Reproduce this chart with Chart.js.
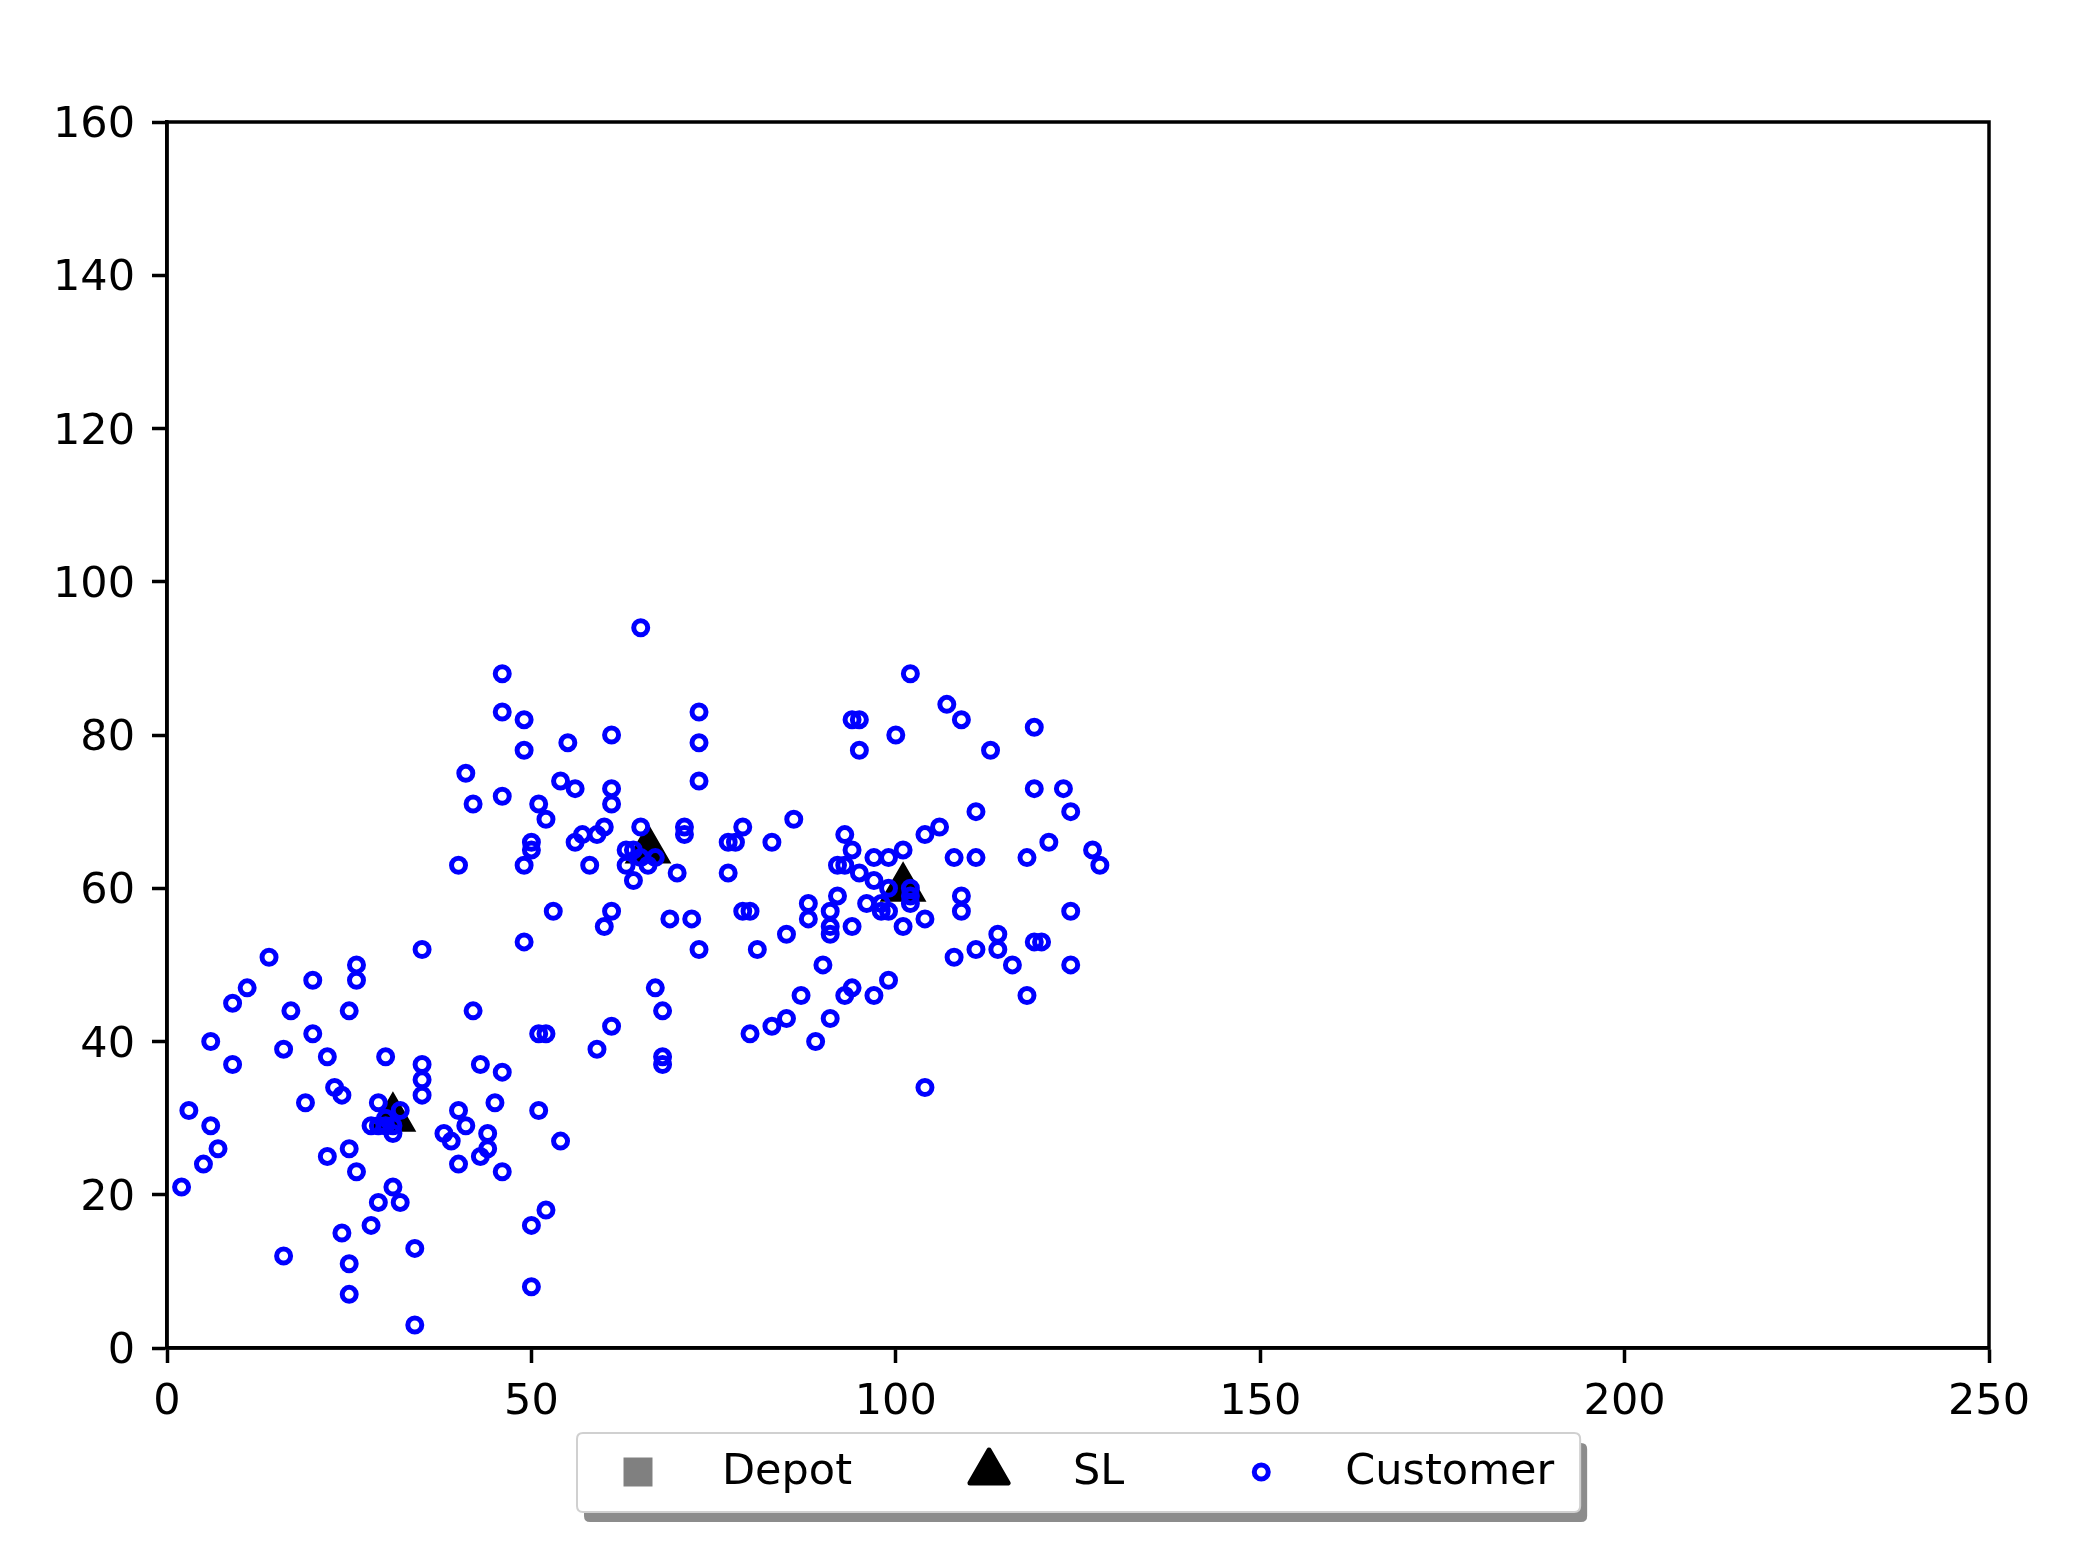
<!DOCTYPE html>
<html>
<head>
<meta charset="utf-8">
<script src="https://cdn.jsdelivr.net/npm/chart.js@4.4.1/dist/chart.umd.min.js"></script>
<style>
  html, body { margin: 0; padding: 0; background: #fff; }
</style>
</head>
<body>
<canvas id="myChart" width="2079" height="1561"></canvas>
<script>
// 데이터 (그림에서 읽은 좌표)
const depotX = [];
const depotY = [];

const slX = [31, 66, 101];
const slY = [30, 65, 60];

const customerX = [
  65, 46, 102, 46, 73, 49, 94, 95, 109, 107, 119, 61, 100, 55, 73, 49, 95, 113, 41, 73,
  54, 56, 61, 119, 123, 46, 42, 51, 61, 111, 124, 52, 86, 106, 71, 71, 65, 60, 59, 57,
  56, 50, 50, 49, 58, 40, 70, 77, 77, 78, 79, 83, 64, 63, 63, 64, 65, 66, 67, 53,
  61, 60, 49, 69, 72, 73, 79, 80, 81, 85, 88, 88, 90, 104, 121, 127, 128, 118, 108, 111,
  93, 94, 97, 99, 101, 92, 93, 95, 97, 99, 92, 96, 98, 99, 98, 101, 104, 102, 102, 102,
  109, 109, 124, 91, 91, 91, 94, 114, 114, 119, 120, 111, 108, 116, 124, 99, 94, 93, 97, 91,
  89, 118, 104, 87, 85, 83, 80, 67, 68, 68, 68, 51, 52, 61, 59, 46, 43, 45, 51, 54,
  44, 44, 43, 46, 52, 50, 50, 42, 14, 35, 26, 26, 20, 11, 9, 17, 25, 6, 20, 16,
  22, 30, 9, 35, 35, 35, 23, 24, 19, 29, 32, 3, 40, 6, 41, 38, 39, 7, 5, 25,
  22, 26, 40, 2, 31, 29, 32, 28, 24, 34, 16, 25, 25, 34, 28, 29, 30, 31, 31, 30
];
const customerY = [
  94, 88, 88, 83, 83, 82, 82, 82, 82, 84, 81, 80, 80, 79, 79, 78, 78, 78, 75, 74,
  74, 73, 73, 73, 73, 72, 71, 71, 71, 70, 70, 69, 69, 68, 68, 67, 68, 68, 67, 67,
  66, 66, 65, 63, 63, 63, 62, 62, 66, 66, 68, 66, 61, 65, 63, 65, 64, 63, 64, 57,
  57, 55, 53, 56, 56, 52, 57, 57, 52, 54, 58, 56, 50, 67, 66, 65, 63, 64, 64, 64,
  67, 65, 64, 64, 65, 63, 63, 62, 61, 60, 59, 58, 58, 57, 57, 55, 56, 60, 59, 58,
  59, 57, 57, 57, 55, 54, 55, 54, 52, 53, 53, 52, 51, 50, 50, 48, 47, 46, 46, 43,
  40, 46, 34, 46, 43, 42, 41, 47, 44, 38, 37, 41, 41, 42, 39, 36, 37, 32, 31, 27,
  28, 26, 25, 23, 18, 16, 8, 44, 51, 52, 50, 48, 48, 47, 45, 44, 44, 40, 41, 39,
  38, 38, 37, 37, 35, 33, 34, 33, 32, 32, 31, 31, 31, 29, 29, 28, 27, 26, 24, 26,
  25, 23, 24, 21, 21, 19, 19, 16, 15, 13, 12, 11, 7, 3, 29, 29, 29, 29, 28, 30
];

const xTicks = [0, 50, 100, 150, 200, 250];
const yTicks = [0, 20, 40, 60, 80, 100, 120, 140, 160];

function toPoints(xs, ys) {
  return xs.map((x, i) => ({ x: x, y: ys[i] }));
}

const FONT = 'DejaVu Sans';

// 축 상자 + 그림자 있는 범례
const framePlugin = {
  id: 'frameAndLegend',
  afterDraw(chart) {
    const ctx = chart.ctx;
    const a = chart.chartArea;
    ctx.save();
    ctx.strokeStyle = '#000';
    ctx.lineWidth = 3.5;
    ctx.strokeRect(a.left, a.top, a.right - a.left, a.bottom - a.top);

    // 범례
    ctx.font = '43px "' + FONT + '"';
    const items = chart.data.datasets;
    const legendOrder = [2, 1, 0].map(o => items.find(d => d.order === o));
    let x = 638;
    const cy = 1472;
    const pos = [];
    legendOrder.forEach(ds => {
      const tw = ctx.measureText(ds.label).width;
      pos.push({ ds: ds, mx: x, tx: x + 84 });
      x = x + 84 + tw + 137;
    });
    const boxL = 577, boxT = 1433;
    const boxR = x - 137 + 26, boxB = 1512;

    // 그림자
    ctx.fillStyle = 'rgba(0,0,0,0.45)';
    roundRect(ctx, boxL + 7, boxT + 10, boxR - boxL, boxB - boxT, 6);
    ctx.fill();
    ctx.fillStyle = '#fff';
    ctx.strokeStyle = '#d0d0d0';
    ctx.lineWidth = 2;
    roundRect(ctx, boxL, boxT, boxR - boxL, boxB - boxT, 6);
    ctx.fill();
    ctx.stroke();

    pos.forEach(p => {
      const ds = p.ds;
      ctx.fillStyle = ds.backgroundColor;
      ctx.strokeStyle = ds.borderColor;
      ctx.lineWidth = ds.borderWidth;
      ctx.lineJoin = 'round';
      const r = ds.pointStyle === 'rect' ? 20.5 : ds.pointRadius;
      Chart.helpers.drawPoint(ctx, {
        pointStyle: ds.pointStyle, radius: r, borderWidth: ds.borderWidth, rotation: 0
      }, p.mx, cy);
      ctx.fillStyle = '#000';
      ctx.textBaseline = 'middle';
      ctx.textAlign = 'left';
      ctx.fillText(ds.label, p.tx, cy + 1);
    });
    ctx.restore();
  }
};

function roundRect(ctx, x, y, w, h, r) {
  ctx.beginPath();
  ctx.moveTo(x + r, y);
  ctx.lineTo(x + w - r, y);
  ctx.quadraticCurveTo(x + w, y, x + w, y + r);
  ctx.lineTo(x + w, y + h - r);
  ctx.quadraticCurveTo(x + w, y + h, x + w - r, y + h);
  ctx.lineTo(x + r, y + h);
  ctx.quadraticCurveTo(x, y + h, x, y + h - r);
  ctx.lineTo(x, y + r);
  ctx.quadraticCurveTo(x, y, x + r, y);
  ctx.closePath();
}

let ctx = document.getElementById('myChart').getContext('2d');
let myChart = new Chart(ctx, {
  type: 'scatter',
  data: {
    datasets: [
      {
        label: 'Customer',
        data: toPoints(customerX, customerY),
        pointStyle: 'circle',
        pointRadius: 7,
        borderWidth: 5,
        borderColor: '#0000ff',
        backgroundColor: 'rgba(0,0,0,0)',
        order: 0
      },
      {
        label: 'SL',
        data: toPoints(slX, slY),
        pointStyle: 'triangle',
        pointRadius: 22,
        borderWidth: 5,
        borderColor: '#000',
        backgroundColor: '#000',
        order: 1
      },
      {
        label: 'Depot',
        data: toPoints(depotX, depotY),
        pointStyle: 'rect',
        pointRadius: 20,
        borderWidth: 0,
        borderColor: '#808080',
        backgroundColor: '#808080',
        order: 2
      }
    ]
  },
  options: {
    responsive: false,
    animation: false,
    devicePixelRatio: 1,
    layout: { padding: { left: 0, right: 90, top: 122, bottom: 0 } },
    plugins: {
      legend: { display: false },
      tooltip: { enabled: false }
    },
    scales: {
      x: {
        type: 'linear',
        position: 'bottom',
        min: xTicks[0],
        max: xTicks[xTicks.length - 1],
        afterBuildTicks: s => { s.ticks = xTicks.map(v => ({ value: v })); },
        ticks: { color: '#000', font: { family: FONT, size: 43 }, padding: 14, maxRotation: 0, autoSkip: false },
        grid: { drawOnChartArea: false, drawTicks: true, tickLength: 15, tickWidth: 3.5, tickColor: '#000' },
        border: { color: '#000', width: 3.5 },
        afterFit: s => { s.height = 213; }
      },
      y: {
        type: 'linear',
        position: 'left',
        min: yTicks[0],
        max: yTicks[yTicks.length - 1],
        afterBuildTicks: s => { s.ticks = yTicks.map(v => ({ value: v })); },
        ticks: { color: '#000', font: { family: FONT, size: 43 }, padding: 17, labelOffset: 4, autoSkip: false },
        grid: { drawOnChartArea: false, drawTicks: true, tickLength: 15, tickWidth: 3.5, tickColor: '#000' },
        border: { color: '#000', width: 3.5 },
        afterFit: s => { s.width = 167; }
      }
    }
  },
  plugins: [framePlugin]
});
</script>
</body>
</html>
